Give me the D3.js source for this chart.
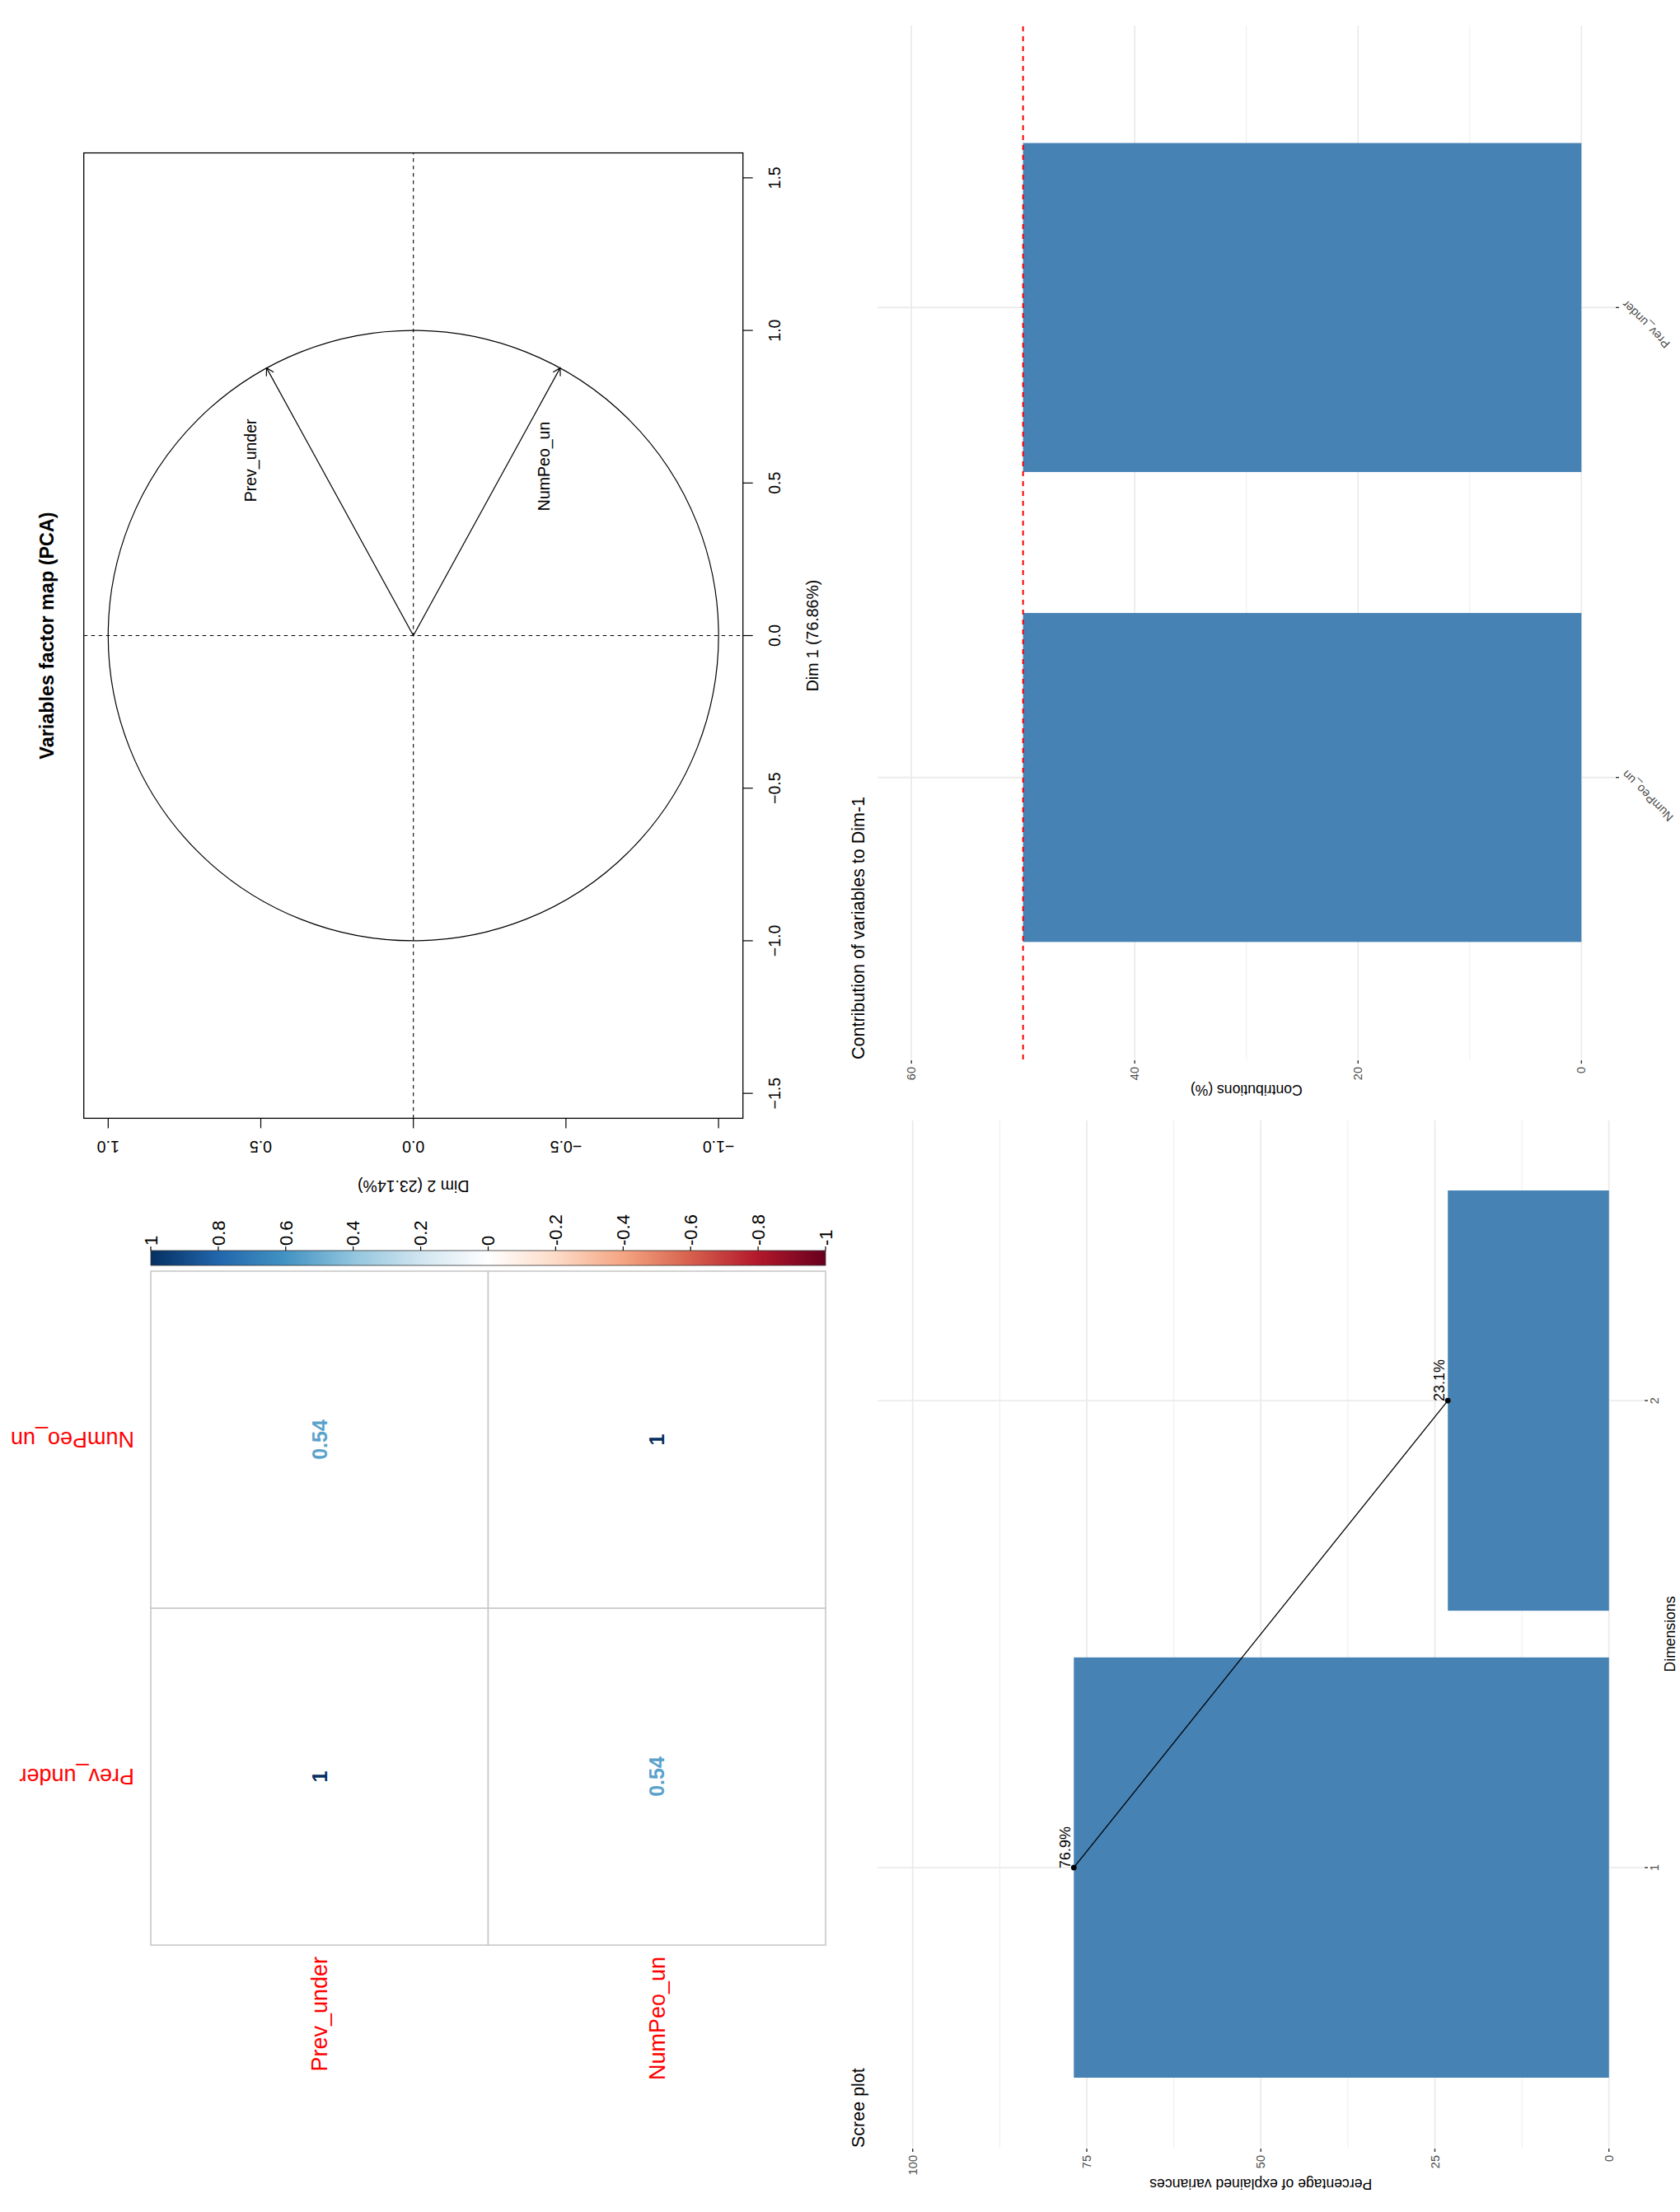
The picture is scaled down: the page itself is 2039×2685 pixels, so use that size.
<!DOCTYPE html>
<html>
<head>
<meta charset="utf-8">
<script src="https://cdn.jsdelivr.net/npm/d3@7"></script>
<style>
  html, body { margin: 0; padding: 0; background: #ffffff; }
  svg { display: block; }
</style>
</head>
<body>
<script>
// ---------------- DATA ----------------
// PCA variables factor map
const pcaVars = ["Prev_under", "NumPeo_un"];
const pcaDim1 = [0.877, 0.877];
const pcaDim2 = [0.481, -0.481];
const pcaLabelDim1 = [0.574, 0.555];
const pcaLabelDim2 = [0.533, -0.428];
const pcaDim1Ticks = [-1.5, -1.0, -0.5, 0.0, 0.5, 1.0, 1.5];
const pcaDim2Ticks = [-1.0, -0.5, 0.0, 0.5, 1.0];
const pcaTitle = "Variables factor map (PCA)";
const pcaXLabel = "Dim 1 (76.86%)";
const pcaYLabel = "Dim 2 (23.14%)";

// Correlation matrix (corrplot)
const corrVars = ["Prev_under", "NumPeo_un"];
const corrRows = [[1, 0.54], [0.54, 1]];
const colorbarTicks = [1, 0.8, 0.6, 0.4, 0.2, 0, -0.2, -0.4, -0.6, -0.8, -1];
const colorbarTickLabels = ["1", "0.8", "0.6", "0.4", "0.2", "0", "-0.2", "-0.4", "-0.6", "-0.8", "-1"];
const rdbuStops = [-1, -0.8, -0.6, -0.4, -0.2, 0, 0.2, 0.4, 0.6, 0.8, 1];
const rdbuColors = ["#67001F", "#B2182B", "#D6604D", "#F4A582", "#FDDBC7", "#FFFFFF",
                    "#D1E5F0", "#92C5DE", "#4393C3", "#2166AC", "#053061"];

// Scree plot
const screeDims = ["1", "2"];
const screeValues = [76.86, 23.14];
const screeLabels = ["76.9%", "23.1%"];
const screeLimits = [0, 100];
const screeMajor = [0, 25, 50, 75, 100];
const screeMinor = [12.5, 37.5, 62.5, 87.5];

// Contribution of variables to Dim-1
const contribVars = ["NumPeo_un", "Prev_under"];
const contribValues = [50, 50];
const contribExpected = 50;
const contribLimits = [0, 60];
const contribMajor = [0, 20, 40, 60];
const contribMinor = [10, 30, 50];

// ---------------- SETUP ----------------
const W = 2039, H = 2685;
const FONT = "'Liberation Sans', Arial, Helvetica, sans-serif";
const svg = d3.select("body").append("svg")
  .attr("width", W).attr("height", H)
  .attr("font-family", FONT);
svg.append("rect").attr("width", W).attr("height", H).attr("fill", "#fff");
// whole figure is rotated 90° counter-clockwise
const root = svg.append("g").attr("transform", `translate(0,${H}) rotate(-90)`);

// ---------------- PCA VARIABLES MAP ----------------
{
  const g = root.append("g");
  const px = d3.scaleLinear().domain([-1.5817, 1.5817]).range([1327.6, 2499.4]);
  const py = d3.scaleLinear().domain([-1.08, 1.08]).range([901.7, 101.7]);
  const [x0, x1] = px.range();
  const [yb, yt] = py.range();

  // dashed axes
  g.append("line").attr("x1", px(0)).attr("x2", px(0)).attr("y1", yt).attr("y2", yb)
    .attr("stroke", "#000").attr("stroke-width", 1.1).attr("stroke-dasharray", "4.5,4.5");
  g.append("line").attr("x1", x0).attr("x2", x1).attr("y1", py(0)).attr("y2", py(0))
    .attr("stroke", "#000").attr("stroke-width", 1.1).attr("stroke-dasharray", "4.5,4.5");

  // unit circle
  g.append("circle").attr("cx", px(0)).attr("cy", py(0)).attr("r", px(1) - px(0))
    .attr("fill", "none").attr("stroke", "#000").attr("stroke-width", 1.2);

  // arrows
  pcaVars.forEach((v, i) => {
    const ax = px(0), ay = py(0), bx = px(pcaDim1[i]), by = py(pcaDim2[i]);
    g.append("line").attr("x1", ax).attr("y1", ay).attr("x2", bx).attr("y2", by)
      .attr("stroke", "#000").attr("stroke-width", 1.2);
    const ang = Math.atan2(by - ay, bx - ax), L = 10, a = Math.PI / 6;
    g.append("path")
      .attr("d", `M${bx - L * Math.cos(ang - a)},${by - L * Math.sin(ang - a)}L${bx},${by}L${bx - L * Math.cos(ang + a)},${by - L * Math.sin(ang + a)}`)
      .attr("fill", "none").attr("stroke", "#000").attr("stroke-width", 1.2);
    g.append("text").attr("x", px(pcaLabelDim1[i])).attr("y", py(pcaLabelDim2[i]))
      .attr("dy", "0.35em").attr("text-anchor", "middle")
      .attr("font-size", 19.5).attr("fill", "#000").text(v);
  });

  // box
  g.append("rect").attr("x", x0).attr("y", yt).attr("width", x1 - x0).attr("height", yb - yt)
    .attr("fill", "none").attr("stroke", "#000").attr("stroke-width", 1.3);

  // bottom axis (Dim 1)
  const fmt = d3.format(".1f");
  pcaDim1Ticks.forEach(t => {
    g.append("line").attr("x1", px(t)).attr("x2", px(t)).attr("y1", yb).attr("y2", yb + 12)
      .attr("stroke", "#000").attr("stroke-width", 1.2);
    g.append("text").attr("x", px(t)).attr("y", 947).attr("text-anchor", "middle")
      .attr("font-size", 19.5).text(fmt(t));
  });
  // left axis (Dim 2)
  pcaDim2Ticks.forEach(t => {
    g.append("line").attr("x1", x0).attr("x2", x0 - 12).attr("y1", py(t)).attr("y2", py(t))
      .attr("stroke", "#000").attr("stroke-width", 1.2);
    g.append("text").attr("transform", `translate(1300,${py(t)}) rotate(-90)`)
      .attr("text-anchor", "middle").attr("font-size", 19.5).text(fmt(t));
  });

  g.append("text").attr("x", px(0)).attr("y", 993).attr("text-anchor", "middle")
    .attr("font-size", 19.5).text(pcaXLabel);
  g.append("text").attr("transform", `translate(1252,${py(0)}) rotate(-90)`)
    .attr("text-anchor", "middle").attr("font-size", 19.5).text(pcaYLabel);
  g.append("text").attr("x", px(0)).attr("y", 65).attr("text-anchor", "middle")
    .attr("font-size", 23.4).attr("font-weight", "bold").text(pcaTitle);
}

// ---------------- CORRPLOT ----------------
{
  const g = root.append("g");
  const cx = d3.scaleBand().domain(corrVars).range([324, 1142]);
  const cy = d3.scaleBand().domain(corrVars).range([183, 1002]);
  const col = d3.scaleLinear().domain(rdbuStops).range(rdbuColors);
  const bw = cx.bandwidth(), bh = cy.bandwidth();

  corrVars.forEach((rv, i) => {
    corrVars.forEach((cv, j) => {
      g.append("rect").attr("x", cx(cv)).attr("y", cy(rv)).attr("width", bw).attr("height", bh)
        .attr("fill", "#fff").attr("stroke", "#C8C8C8").attr("stroke-width", 1.6);
    });
  });
  corrVars.forEach((rv, i) => {
    corrVars.forEach((cv, j) => {
      const v = corrRows[i][j];
      g.append("text").attr("x", cx(cv) + bw / 2).attr("y", cy(rv) + bh / 2)
        .attr("dy", "0.36em").attr("text-anchor", "middle")
        .attr("font-size", 25).attr("font-weight", "bold")
        .attr("fill", col(v)).text(String(v));
    });
  });
  // column labels (top, vertical)
  corrVars.forEach(v => {
    g.append("text").attr("transform", `translate(${cx(v) + bw / 2},163) rotate(-90)`)
      .attr("dy", "0.35em").attr("text-anchor", "start")
      .attr("font-size", 27).attr("fill", "#FF0000").text(v);
  });
  // row labels (left)
  corrVars.forEach(v => {
    g.append("text").attr("x", 310).attr("y", cy(v) + bh / 2).attr("dy", "0.35em")
      .attr("text-anchor", "end").attr("font-size", 27).attr("fill", "#FF0000").text(v);
  });

  // color bar
  const cb = d3.scaleLinear().domain([1, -1]).range([183, 1002]);
  const defs = svg.append("defs");
  const grad = defs.append("linearGradient").attr("id", "rdbu")
    .attr("x1", 0).attr("y1", 0).attr("x2", 0).attr("y2", 1);
  rdbuStops.slice().reverse().forEach((s, k) => {
    grad.append("stop").attr("offset", (1 - s) / 2)
      .attr("stop-color", rdbuColors[rdbuColors.length - 1 - k]);
  });
  g.append("rect").attr("x", 1149).attr("y", cb(1)).attr("width", 18).attr("height", cb(-1) - cb(1))
    .attr("fill", "url(#rdbu)").attr("stroke", "#333").attr("stroke-width", 0.8);
  colorbarTicks.forEach((t, k) => {
    g.append("line").attr("x1", 1167).attr("x2", 1172).attr("y1", cb(t)).attr("y2", cb(t))
      .attr("stroke", "#000").attr("stroke-width", 1.2);
    g.append("text").attr("x", 1173).attr("y", cb(t)).attr("dy", "0.35em")
      .attr("text-anchor", "start").attr("font-size", 22).attr("fill", "#000")
      .text(colorbarTickLabels[k]);
  });
}

// ---------------- GGPLOT STYLE BAR CHART HELPER ----------------
function barChart(g, o) {
  const span = o.limits[1] - o.limits[0];
  const y = d3.scaleLinear()
    .domain([o.limits[0] - 0.05 * span, o.limits[1] + 0.05 * span])
    .range([o.bottom, o.top]);
  const pi = 1 - o.barWidth;
  const x = d3.scaleBand().domain(o.cats).range([o.left, o.right])
    .paddingInner(pi).paddingOuter(0.6 - o.barWidth / 2);
  const grid = "#EBEBEB";
  o.minor.forEach(v => g.append("line").attr("x1", o.left).attr("x2", o.right)
    .attr("y1", y(v)).attr("y2", y(v)).attr("stroke", grid).attr("stroke-width", 0.9));
  o.major.forEach(v => g.append("line").attr("x1", o.left).attr("x2", o.right)
    .attr("y1", y(v)).attr("y2", y(v)).attr("stroke", grid).attr("stroke-width", 1.8));
  o.cats.forEach(c => g.append("line").attr("x1", x(c) + x.bandwidth() / 2).attr("x2", x(c) + x.bandwidth() / 2)
    .attr("y1", o.top).attr("y2", o.bottom).attr("stroke", grid).attr("stroke-width", 1.8));
  // bars
  o.cats.forEach((c, i) => g.append("rect").attr("x", x(c)).attr("width", x.bandwidth())
    .attr("y", y(o.values[i])).attr("height", y(0) - y(o.values[i])).attr("fill", "#4682B4"));
  // value axis
  o.major.forEach(v => {
    g.append("line").attr("x1", o.left - 5).attr("x2", o.left - 1).attr("y1", y(v)).attr("y2", y(v))
      .attr("stroke", "#333").attr("stroke-width", 1.4);
    g.append("text").attr("x", o.left - 9).attr("y", y(v)).attr("dy", "0.35em")
      .attr("text-anchor", "end").attr("font-size", 14.5).attr("fill", "#4D4D4D").text(String(v));
  });
  // category axis
  o.cats.forEach(c => {
    const cxp = x(c) + x.bandwidth() / 2;
    g.append("line").attr("x1", cxp).attr("x2", cxp).attr("y1", o.bottom + 1).attr("y2", o.bottom + 5)
      .attr("stroke", "#333").attr("stroke-width", 1.4);
    if (o.rotateCats) {
      g.append("text").attr("transform", `translate(${cxp + 2},${o.bottom + 7}) rotate(-45)`)
        .attr("dy", "0.75em").attr("text-anchor", "end")
        .attr("font-size", 14.5).attr("fill", "#4D4D4D").text(c);
    } else {
      g.append("text").attr("x", cxp).attr("y", o.bottom + 8).attr("dy", "0.72em")
        .attr("text-anchor", "middle").attr("font-size", 14.5).attr("fill", "#4D4D4D").text(c);
    }
  });
  // title and axis titles
  g.append("text").attr("x", o.left).attr("y", 1049).attr("font-size", 21.5).attr("fill", "#000").text(o.title);
  g.append("text").attr("transform", `translate(${o.yTitleX},${(o.top + o.bottom) / 2}) rotate(-90)`)
    .attr("text-anchor", "middle").attr("font-size", 17.6).attr("fill", "#000").text(o.yTitle);
  if (o.xTitle) {
    g.append("text").attr("x", (o.left + o.right) / 2).attr("y", o.xTitleY)
      .attr("text-anchor", "middle").attr("font-size", 17.6).attr("fill", "#000").text(o.xTitle);
  }
  return { x, y };
}

// ---------------- SCREE PLOT ----------------
{
  const g = root.append("g");
  const { x, y } = barChart(g, {
    cats: screeDims, values: screeValues, limits: screeLimits,
    major: screeMajor, minor: screeMinor,
    left: 78, right: 1325, top: 1065.5, bottom: 1995, barWidth: 0.9,
    title: "Scree plot", yTitle: "Percentage of explained variances", yTitleX: 40,
    xTitle: "Dimensions", xTitleY: 2033, rotateCats: false
  });
  const pts = screeDims.map((d, i) => [x(d) + x.bandwidth() / 2, y(screeValues[i])]);
  g.append("path").attr("d", d3.line()(pts)).attr("fill", "none")
    .attr("stroke", "#000").attr("stroke-width", 1.3);
  pts.forEach((p, i) => {
    g.append("circle").attr("cx", p[0]).attr("cy", p[1]).attr("r", 3.4).attr("fill", "#000");
    g.append("text").attr("x", p[0] - 1).attr("y", p[1] - 4).attr("text-anchor", "start")
      .attr("font-size", 18).attr("fill", "#000").text(screeLabels[i]);
  });
}

// ---------------- CONTRIBUTION PLOT ----------------
{
  const g = root.append("g");
  const { x, y } = barChart(g, {
    cats: contribVars, values: contribValues, limits: contribLimits,
    major: contribMajor, minor: contribMinor,
    left: 1399, right: 2654, top: 1065.5, bottom: 1960, barWidth: 0.7,
    title: "Contribution of variables to Dim-1", yTitle: "Contributions (%)", yTitleX: 1368,
    xTitle: null, rotateCats: true
  });
  g.append("line").attr("x1", 1399).attr("x2", 2654)
    .attr("y1", y(contribExpected)).attr("y2", y(contribExpected))
    .attr("stroke", "#FF0000").attr("stroke-width", 2).attr("stroke-dasharray", "6,6");
}
</script>
</body>
</html>
